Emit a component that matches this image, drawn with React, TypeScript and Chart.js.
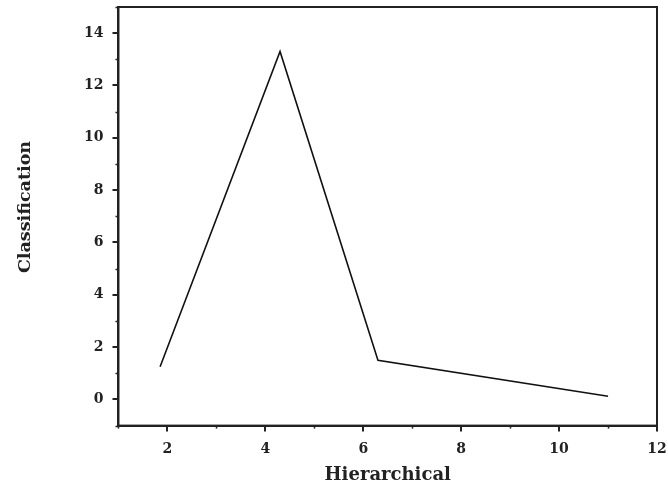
import React, { useEffect, useRef } from "react";
import { Chart, registerables } from "chart.js";

Chart.register(...registerables);

const xValues = [1.85, 4.3, 6.3, 11.0];
const yValues = [1.25, 13.3, 1.5, 0.12];
const xTitle = "Hierarchical";
const yTitle = "Classification";
const xMin = 1, xMax = 12, yMin = -1, yMax = 15;

const INK = "#222";
const FONT = "'DejaVu Serif', 'Liberation Serif', serif";

const boxPlugin = {
  id: "boxPlugin",
  afterDraw(chart: any) {
    const { ctx, chartArea, scales } = chart;
    ctx.save();
    ctx.strokeStyle = INK;
    ctx.lineWidth = 2;
    ctx.strokeRect(chartArea.left, chartArea.top, chartArea.right - chartArea.left, chartArea.bottom - chartArea.top);
    ctx.lineWidth = 1.5;
    for (let v = xMin; v <= xMax; v++) {
      if (v % 2 !== 0) {
        const px = Math.round(scales.x.getPixelForValue(v)) + 0.5;
        ctx.beginPath();
        ctx.moveTo(px, chartArea.bottom);
        ctx.lineTo(px, chartArea.bottom + 3);
        ctx.stroke();
      }
    }
    for (let v = yMin; v <= yMax; v++) {
      if (v % 2 !== 0) {
        const py = Math.round(scales.y.getPixelForValue(v)) + 0.5;
        ctx.beginPath();
        ctx.moveTo(chartArea.left, py);
        ctx.lineTo(chartArea.left - 3, py);
        ctx.stroke();
      }
    }
    // y axis title
    ctx.translate(25, 207);
    ctx.rotate(-Math.PI / 2);
    ctx.fillStyle = INK;
    ctx.font = `bold 17.5px ${FONT}`;
    ctx.textAlign = "center";
    ctx.textBaseline = "middle";
    ctx.fillText(yTitle, 0, 0);
    ctx.restore();
  },
};

export default function App() {
  const ref = useRef<HTMLCanvasElement>(null);
  useEffect(() => {
    document.body.style.margin = "0";
    const points = xValues.map((x, i) => ({ x, y: yValues[i] }));
    const chart = new Chart(ref.current!, {
      type: "scatter",
      data: {
        datasets: [
          {
            data: points,
            showLine: true,
            borderColor: "#111",
            borderWidth: 1.6,
            pointRadius: 0,
            tension: 0,
          },
        ],
      },
      options: {
        animation: false,
        responsive: true,
        maintainAspectRatio: false,
        layout: { padding: { top: 7, right: 11, bottom: 7, left: 75 } },
        plugins: { legend: { display: false }, tooltip: { enabled: false } },
        scales: {
          x: {
            type: "linear",
            min: xMin,
            max: xMax,
            afterFit: (s: any) => {
              s.paddingRight = 0;
              s.paddingLeft = 0;
            },
            ticks: {
              stepSize: 1,
              autoSkip: false,
              maxRotation: 0,
              color: INK,
              font: { family: FONT, size: 14, weight: "bold" },
              padding: 9,
              callback: (v: any) => (Number(v) % 2 === 0 ? String(v) : ""),
            },
            grid: {
              drawOnChartArea: false,
              tickLength: 6,
              lineWidth: 2,
              tickColor: (c: any) => (c.tick && c.tick.value % 2 === 0 ? INK : "rgba(0,0,0,0)"),
            },
            border: { display: true, color: INK, width: 2 },
            title: {
              display: true,
              text: xTitle,
              color: INK,
              font: { family: FONT, size: 18, weight: "bold" },
              padding: { top: -2, bottom: 0 },
            },
          },
          y: {
            type: "linear",
            min: yMin,
            max: yMax,
            afterFit: (s: any) => {
              s.paddingTop = 0;
              s.paddingBottom = 0;
            },
            ticks: {
              stepSize: 1,
              autoSkip: false,
              color: INK,
              font: { family: FONT, size: 14, weight: "bold" },
              padding: 9,
              callback: (v: any) => (Number(v) % 2 === 0 && Number(v) < 15 ? String(v) : ""),
            },
            grid: {
              drawOnChartArea: false,
              tickLength: 6,
              lineWidth: 2,
              tickColor: (c: any) => (c.tick && c.tick.value % 2 === 0 && c.tick.value < 15 ? INK : "rgba(0,0,0,0)"),
            },
            border: { display: true, color: INK, width: 2 },
            title: { display: false },
          },
        },
      },
      plugins: [boxPlugin],
    });
    return () => chart.destroy();
  }, []);
  return (
    <div style={{ width: 668, height: 493, position: "relative" }}>
      <canvas ref={ref} />
    </div>
  );
}
